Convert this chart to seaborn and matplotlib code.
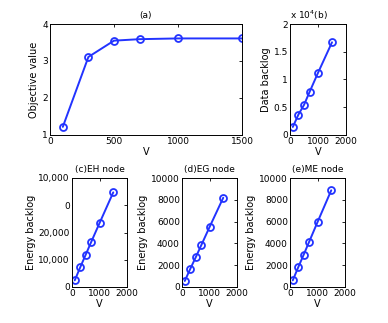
import seaborn as sns
import matplotlib.pyplot as plt
import pandas as pd

# values
V = [100, 300, 500, 700, 1000, 1500]
objective = [1.22, 3.11, 3.55, 3.59, 3.61, 3.61]
data_backlog = [0.145, 0.367, 0.542, 0.777, 1.12, 1.67]   # x 10^4
eh_backlog = [2450, 7240, 11900, 16560, 23430, 34720]
eg_backlog = [550, 1660, 2730, 3830, 5490, 8190]
me_backlog = [610, 1810, 2980, 4170, 5950, 8870]

eh_ticklabels = ["0", "10,000", "20,000", "0", "10,000"]

sns.set_style("white")
plt.rcParams['font.family'] = ['DejaVu Sans']
plt.rcParams['font.size'] = 6.5
plt.rcParams['text.color'] = 'black'
plt.rcParams['axes.labelcolor'] = 'black'
plt.rcParams['xtick.color'] = 'black'
plt.rcParams['ytick.color'] = 'black'

W, H = 388, 323
fig = plt.figure(figsize=(W / 100, H / 100), dpi=100)


def px_axes(x0, y0, x1, y1):
    return fig.add_axes([x0 / W, 1 - y1 / H, (x1 - x0) / W, (y1 - y0) / H])


def draw(ax, y, title, ylabel, xlim, xticks, ylim, yticks):
    df = pd.DataFrame({"V": V, "y": y})
    sns.lineplot(x="V", y="y", data=df, ax=ax, color="#2233ff", linewidth=1.4,
                 marker="o", markersize=5, markerfacecolor="none",
                 markeredgecolor="#2233ff", markeredgewidth=1.3)
    ax.set_xlim(xlim)
    ax.set_xticks(xticks)
    ax.set_ylim(ylim)
    ax.set_yticks(yticks)
    ax.set_title(title, fontsize=6.5, pad=4)
    ax.set_xlabel("V", fontsize=7, labelpad=1)
    ax.set_ylabel(ylabel, fontsize=7, labelpad=2)
    ax.tick_params(direction="in", length=2.5, width=0.6, labelsize=6.5,
                   top=True, right=True, pad=1.5)
    for s in ax.spines.values():
        s.set_linewidth(0.7)
        s.set_color("black")


ax = px_axes(50, 24, 242, 135)
draw(ax, objective, "(a)", "Objective value", (0, 1500), [0, 500, 1000, 1500],
     (1, 4), [1, 2, 3, 4])

ax = px_axes(290, 24, 346, 135)
draw(ax, data_backlog, "", "Data backlog", (0, 2000), [0, 1000, 2000],
     (0, 2), [0, 0.5, 1, 1.5, 2])
ax.set_yticklabels(["0", "0.5", "1", "1.5", "2"])
ax.text(0.0, 1.02, r"x 10$^{4}$(b)", transform=ax.transAxes, fontsize=6.5,
        ha="left", va="bottom")

ax = px_axes(72, 178, 127, 287)
draw(ax, eh_backlog, "(c)EH node", "Energy backlog", (0, 2000), [0, 1000, 2000],
     (0, 40000), [0, 10000, 20000, 30000, 40000])
ax.set_yticklabels(eh_ticklabels)

ax = px_axes(182, 178, 237, 287)
draw(ax, eg_backlog, "(d)EG node", "Energy backlog", (0, 2000), [0, 1000, 2000],
     (0, 10000), [0, 2000, 4000, 6000, 8000, 10000])

ax = px_axes(290, 178, 345, 287)
draw(ax, me_backlog, "(e)ME node", "Energy backlog", (0, 2000), [0, 1000, 2000],
     (0, 10000), [0, 2000, 4000, 6000, 8000, 10000])

fig.savefig("out.png", dpi=100)
